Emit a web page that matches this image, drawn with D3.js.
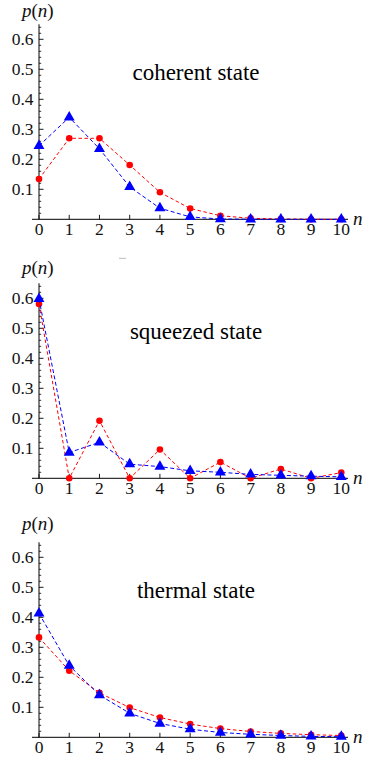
<!DOCTYPE html>
<html><head><meta charset="utf-8">
<script src="https://cdn.jsdelivr.net/npm/d3@7"></script>
<style>
body{margin:0}
svg text, svg tspan { font-family: "Times New Roman", "Liberation Serif", Tinos, serif !important; }
</style>
</head><body>
<script>
const nValues = [0,1,2,3,4,5,6,7,8,9,10];
const yTicks = [0.1,0.2,0.3,0.4,0.5,0.6];
const panelTitles = ["coherent state","squeezed state","thermal state"];
const redCoherent = [0.134,0.270,0.270,0.181,0.090,0.036,0.012,0.0034,0.0009,0.0002,0.00004];
const blueCoherent = [0.245,0.340,0.235,0.108,0.037,0.008,0.001,0.0002,0,0,0];
const redSqueezed = [0.581,0,0.192,0,0.096,0,0.054,0,0.031,0,0.019];
const blueSqueezed = [0.598,0.086,0.120,0.047,0.039,0.025,0.020,0.013,0.010,0.007,0.005];
const redThermal = [0.333,0.222,0.148,0.099,0.066,0.044,0.029,0.0195,0.013,0.0087,0.0058];
const blueThermal = [0.413,0.239,0.141,0.080,0.046,0.027,0.016,0.010,0.006,0.003,0.002];

const panels = [
  {title: panelTitles[0], red: redCoherent, blue: blueCoherent, axisY: 219.3, labelY: 16.5},
  {title: panelTitles[1], red: redSqueezed, blue: blueSqueezed, axisY: 478.3, labelY: 273.5},
  {title: panelTitles[2], red: redThermal, blue: blueThermal, axisY: 737.3, labelY: 530}
];

const svg = d3.select("body").append("svg").attr("width",366).attr("height",760)
  .style("display","block");
const x = d3.scaleLinear().domain([0,10]).range([39,341.3]);

panels.forEach(p => {
  const y = d3.scaleLinear().domain([0,0.65]).range([p.axisY, p.axisY-195]);
  const g = svg.append("g");
  const minor = d3.range(0.02,0.65,0.02).filter(v => Math.abs(v*10-Math.round(v*10))>1e-6);
  g.selectAll(".mn").data(minor).join("line")
    .attr("x1",x(0)).attr("x2",x(0)+2.2).attr("y1",d=>y(d)).attr("y2",d=>y(d))
    .attr("stroke","#000").attr("stroke-width",0.8);
  g.selectAll(".mj").data(yTicks).join("line")
    .attr("x1",x(0)).attr("x2",x(0)+4.5).attr("y1",d=>y(d)).attr("y2",d=>y(d))
    .attr("stroke","#000").attr("stroke-width",0.9);
  g.selectAll(".yl").data(yTicks).join("text")
    .attr("x",x(0)-5.5).attr("y",d=>y(d)+5.8).attr("text-anchor","end")
    .attr("font-size",17.5).attr("fill","#111")
    .text(d=>d3.format(".1f")(d));
  g.selectAll(".xt").data(nValues).join("line")
    .attr("x1",d=>x(d)).attr("x2",d=>x(d)).attr("y1",p.axisY).attr("y2",p.axisY-4.5)
    .attr("stroke","#000").attr("stroke-width",0.9);
  g.selectAll(".xl").data(nValues).join("text")
    .attr("x",d=>x(d)).attr("y",p.axisY+16).attr("text-anchor","middle")
    .attr("font-size",17.5).attr("fill","#111")
    .text(d=>d);
  g.append("line").attr("x1",x(0)).attr("x2",x(0)).attr("y1",y(0.65)).attr("y2",p.axisY)
    .attr("stroke","#000").attr("stroke-width",1);
  g.append("line").attr("x1",32).attr("x2",348).attr("y1",p.axisY).attr("y2",p.axisY)
    .attr("stroke","#000").attr("stroke-width",1);
  const lab = g.append("text").attr("x",22).attr("y",p.labelY)
    .attr("font-size",19).attr("fill","#111");
  lab.append("tspan").attr("font-style","italic").text("p");
  lab.append("tspan").text("(");
  lab.append("tspan").attr("font-style","italic").text("n");
  lab.append("tspan").text(")");
  g.append("text").attr("x",353).attr("y",p.axisY+6)
    .attr("font-style","italic").attr("font-size",19).attr("fill","#111").text("n");
  g.append("text").attr("x",196).attr("y",p.axisY-139.5).attr("text-anchor","middle")
    .attr("font-size",23).attr("fill","#000").text(p.title);

  const line = d3.line().x((d,i)=>x(nValues[i])).y(d=>y(d));
  g.append("path").datum(p.red).attr("d",line).attr("fill","none")
    .attr("stroke","#ff0000").attr("stroke-width",1).attr("stroke-dasharray","3.5,2.5");
  g.selectAll(".rc").data(p.red).join("circle")
    .attr("cx",(d,i)=>x(nValues[i])).attr("cy",d=>y(d)).attr("r",3.3).attr("fill","#ff0000");
  g.append("path").datum(p.blue).attr("d",line).attr("fill","none")
    .attr("stroke","#0000ff").attr("stroke-width",1).attr("stroke-dasharray","4,2.5");
  const tri = d3.symbol().type(d3.symbolTriangle).size(52);
  g.selectAll(".bt").data(p.blue).join("path")
    .attr("d",tri).attr("transform",(d,i)=>`translate(${x(nValues[i])},${y(d)})`)
    .attr("fill","#0000ff");
});
svg.append("line").attr("x1",119).attr("x2",126).attr("y1",258.3).attr("y2",258.3)
  .attr("stroke","#aaa").attr("stroke-width",0.8);
</script>
</body></html>
